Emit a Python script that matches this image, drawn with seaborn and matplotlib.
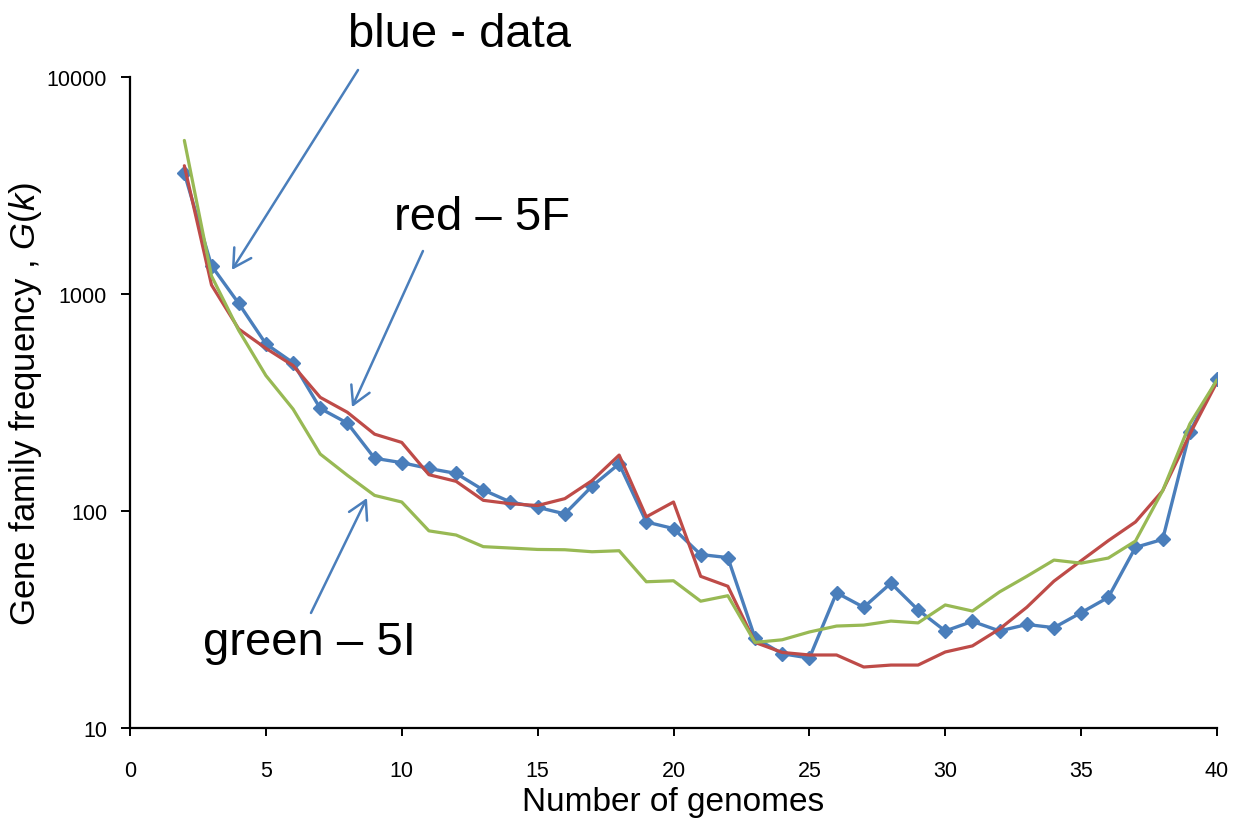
import numpy as np
import pandas as pd
import matplotlib
matplotlib.use("Agg")
import matplotlib.pyplot as plt
from matplotlib.ticker import FixedLocator, FixedFormatter, NullLocator
import seaborn as sns

# Number of genomes k
genomes = list(range(2, 41))

# Observed gene family frequency G(k)
data_values = [3600, 1350, 905, 589, 482, 297, 254, 175, 167, 157,
               149, 125, 110, 104, 97, 130, 165, 89, 83, 63,
               61, 26, 22, 21, 42, 36, 46.5, 35, 28, 31,
               28, 30, 29, 34, 40, 68, 74, 231, 405]

# Model 5F
model_5f = [3900, 1100, 690, 562, 468, 334, 285, 226, 207, 147,
            137, 112, 108, 106, 114, 138, 181, 94, 110, 50,
            45, 24.8, 22.3, 21.7, 21.7, 19.1, 19.5, 19.5, 22.4, 23.9,
            28.6, 36, 47.5, 59, 73, 89, 124, 226, 393]

# Model 5I
model_5i = [5100, 1210, 680, 421, 295, 183, 146, 118, 110, 81,
            77.5, 68.5, 67.5, 66.5, 66.3, 64.9, 65.6, 47.2, 47.7, 38.4,
            40.7, 24.8, 25.5, 27.7, 29.5, 29.8, 31.1, 30.5, 36.9, 34.6,
            42.4, 50, 59.4, 57.5, 60.7, 72.7, 124, 252, 402]

y_ticks = [10, 100, 1000, 10000]
y_tick_labels = ["10", "100", "1000", "10000"]
x_ticks = [0, 5, 10, 15, 20, 25, 30, 35, 40]

BLUE = "#4A7EBB"
RED = "#BE4B48"
GREEN = "#98B954"

sns.set_style("white")
plt.rcParams["font.family"] = ["Liberation Sans", "DejaVu Sans"]
plt.rcParams["mathtext.fontset"] = "custom"
plt.rcParams["mathtext.rm"] = "Liberation Sans"
plt.rcParams["mathtext.it"] = "Liberation Sans:italic"
plt.rcParams["text.color"] = "black"
plt.rcParams["axes.labelcolor"] = "black"
plt.rcParams["xtick.color"] = "black"
plt.rcParams["ytick.color"] = "black"

df = pd.DataFrame({"k": genomes, "data": data_values,
                   "5F": model_5f, "5I": model_5i})

fig = plt.figure(figsize=(12.39, 8.29), dpi=100)
ax = fig.add_axes([130 / 1239, 1 - 729 / 829, (1217 - 130) / 1239, (729 - 78) / 829])

sns.lineplot(data=df, x="k", y="data", ax=ax, color=BLUE, linewidth=2.4,
             marker="D", markersize=7.5, markeredgecolor=BLUE, markeredgewidth=1,
             zorder=3)
sns.lineplot(data=df, x="k", y="5F", ax=ax, color=RED, linewidth=2.3, zorder=4)
sns.lineplot(data=df, x="k", y="5I", ax=ax, color=GREEN, linewidth=2.3, zorder=5)

ax.set_yscale("log")
ax.set_xlim(0, 40)
ax.set_ylim(10, 10000)
ax.yaxis.set_major_locator(FixedLocator(y_ticks))
ax.yaxis.set_major_formatter(FixedFormatter(y_tick_labels))
ax.yaxis.set_minor_locator(NullLocator())
ax.xaxis.set_major_locator(FixedLocator(x_ticks))
ax.set_xticklabels([str(v) for v in x_ticks])

for side in ("top", "right"):
    ax.spines[side].set_visible(False)
for side in ("left", "bottom"):
    ax.spines[side].set_color("black")
    ax.spines[side].set_linewidth(1.6)

ax.tick_params(axis="y", which="major", direction="out", length=6.5, width=1.4,
               color="black", labelsize=15.5, pad=10, left=True)
ax.tick_params(axis="x", which="major", direction="out", length=6, width=1.4,
               color="black", labelsize=15.5, pad=17, bottom=True)

ax.set_xlabel("Number of genomes", fontsize=24, labelpad=4)
ax.set_ylabel(r"Gene family frequency , $\mathit{G(k)}$", fontsize=25)
ax.yaxis.set_label_coords(-0.079, 0.5)

# Callout labels with arrows
arrow = dict(arrowstyle="->,head_length=0.64,head_width=0.36", color=BLUE,
             lw=1.8, mutation_scale=20, shrinkA=0, shrinkB=0)
ax.annotate("", xy=(3.75, 1291), xytext=(8.39, 10770), arrowprops=arrow,
            annotation_clip=False)
ax.annotate("", xy=(8.17, 301), xytext=(10.78, 1578), arrowprops=arrow,
            annotation_clip=False)
ax.annotate("", xy=(8.72, 114.8), xytext=(6.66, 33.9), arrowprops=arrow,
            annotation_clip=False)

ax.text(12.14, 13900, "blue - data", fontsize=34, ha="center", va="baseline",
        clip_on=False)
ax.text(12.95, 1995, "red \u2013 5F", fontsize=34, ha="center", va="baseline")
ax.text(6.62, 21.9, "green \u2013 5I", fontsize=34, ha="center", va="baseline")

fig.savefig("out.png", dpi=100, facecolor="white")
